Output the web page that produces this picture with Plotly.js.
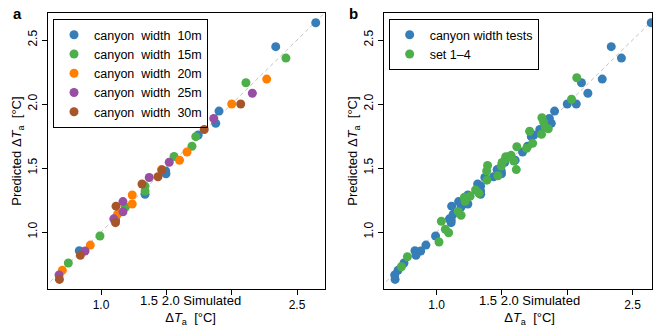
<!DOCTYPE html>
<html>
<head>
<meta charset="utf-8">
<script src="https://cdn.plot.ly/plotly-3.0.1.min.js"></script>
<style>html,body{margin:0;padding:0;background:#fff;}</style>
</head>
<body>
<div id="chart" style="width:653px;height:330px;"></div>
<script>
// ---- data (simulated vs predicted ΔTa, °C) ----
const w10Sim  = [2.643, 2.337, 1.903, 1.878, 1.744, 1.495, 1.497, 1.337, 1.112, 0.834];
const w10Pred = [2.635, 2.448, 1.945, 1.849, 1.758, 1.477, 1.455, 1.295, 1.094, 0.854];
const w15Sim  = [2.415, 2.109, 1.725, 1.696, 1.559, 1.337, 1.337, 1.187, 0.992, 0.750];
const w15Pred = [2.359, 2.166, 1.745, 1.670, 1.591, 1.359, 1.320, 1.195, 0.969, 0.758];
const w20Sim  = [2.268, 2.000, 1.658, 1.601, 1.463, 1.239, 1.239, 1.126, 0.918, 0.704];
const w20Pred = [2.195, 2.000, 1.625, 1.561, 1.488, 1.289, 1.219, 1.138, 0.898, 0.701];
const w25Sim  = [2.158, 1.863, 1.522, 1.369, 1.168, 1.168, 1.098, 0.878, 0.679];
const w25Pred = [2.084, 1.887, 1.545, 1.426, 1.238, 1.158, 1.103, 0.852, 0.664];
const w30Sim  = [2.069, 1.790, 1.467, 1.436, 1.314, 1.115, 1.111, 0.842, 0.682];
const w30Pred = [2.000, 1.801, 1.484, 1.432, 1.375, 1.202, 1.073, 0.818, 0.630];
const setSim  = [2.073, 2.033, 1.806, 1.819, 1.832, 1.855, 1.712, 1.803, 1.735, 1.614, 1.689, 1.570,
                 1.529, 1.591, 1.526, 1.501, 1.469, 1.495, 1.610, 1.390, 1.383, 1.385, 1.298, 1.324,
                 1.256, 1.212, 1.218, 1.166, 1.187, 1.036, 1.067, 1.092, 1.018, 0.776, 0.730];
const setPred = [2.205, 2.037, 1.893, 1.859, 1.818, 1.807, 1.787, 1.763, 1.693, 1.666, 1.654, 1.599,
                 1.588, 1.555, 1.568, 1.543, 1.440, 1.516, 1.488, 1.520, 1.477, 1.405, 1.328, 1.302,
                 1.279, 1.271, 1.240, 1.159, 1.131, 1.084, 1.021, 0.994, 0.922, 0.807, 0.729];
const widthNames = ['canyon\u00a0\u00a0width\u00a0\u00a010m', 'canyon\u00a0\u00a0width\u00a0\u00a015m',
                    'canyon\u00a0\u00a0width\u00a0\u00a020m', 'canyon\u00a0\u00a0width\u00a0\u00a025m',
                    'canyon\u00a0\u00a0width\u00a0\u00a030m'];
const panelBNames = ['canyon width tests', 'set 1\u20134'];
const oneToOne = [0, 3];
const xTickVals = [1.0, 2.5];
const xTickText = ['1.0', '2.5'];
const xMinorTickVals = [1.5, 2.0];
const yTickVals = [1.0, 1.5, 2.0, 2.5];
const yTickText = ['1.0', '1.5', '2.0', '2.5'];

const colors = ['#377eb8', '#4daf4a', '#ff7f00', '#984ea3', '#a65628'];
const FONT = 'Liberation Sans, Arial, Helvetica, sans-serif';

const simA = [w10Sim, w15Sim, w20Sim, w25Sim, w30Sim];
const predA = [w10Pred, w15Pred, w20Pred, w25Pred, w30Pred];

const traces = [];
traces.push({x: oneToOne, y: oneToOne, xaxis: 'x', yaxis: 'y', mode: 'lines', showlegend: false,
  hoverinfo: 'skip', line: {color: '#c4c4c4', width: 1, dash: '4px,3px'}});
traces.push({x: oneToOne, y: oneToOne, xaxis: 'x2', yaxis: 'y2', mode: 'lines', showlegend: false,
  hoverinfo: 'skip', line: {color: '#c4c4c4', width: 1, dash: '4px,3px'}});
for (let i = 0; i < 5; i++) {
  traces.push({x: simA[i], y: predA[i], xaxis: 'x', yaxis: 'y', mode: 'markers', name: widthNames[i],
    legend: 'legend', marker: {color: colors[i], size: 9, line: {width: 0}}});
}
traces.push({x: [].concat(...simA), y: [].concat(...predA), xaxis: 'x2', yaxis: 'y2', mode: 'markers',
  name: panelBNames[0], legend: 'legend2', marker: {color: colors[0], size: 9, line: {width: 0}}});
traces.push({x: setSim, y: setPred, xaxis: 'x2', yaxis: 'y2', mode: 'markers',
  name: panelBNames[1], legend: 'legend2', marker: {color: colors[1], size: 9, line: {width: 0}}});

const axisCommon = {ticks: 'outside', ticklen: 5, tickwidth: 1, tickcolor: '#000', showline: true,
  linecolor: '#000', linewidth: 1, mirror: true, showgrid: false, zeroline: false,
  tickfont: {family: FONT, size: 12, color: '#000'}};
const xMinor = {tickvals: xMinorTickVals, ticks: 'outside', ticklen: 5, tickwidth: 1, tickcolor: '#000', showgrid: false};
const yTitle = {text: 'Predicted \u0394<i>T</i><sub>a</sub>\u00a0\u00a0[\u00b0C]', font: {family: FONT, size: 13, color: '#000'}, standoff: 1};
const xTitleText = '1.5 2.0 Simulated<br>\u0394<i>T</i><sub>a</sub>\u00a0\u00a0[\u00b0C]';

const legendCommon = {xanchor: 'left', yanchor: 'top', bordercolor: '#000', borderwidth: 1,
  bgcolor: 'rgba(255,255,255,0)', font: {family: FONT, size: 12.5, color: '#000'}, itemwidth: 30, tracegroupgap: 0};

const layout = {
  width: 653, height: 330,
  margin: {l: 48, r: 1, t: 13, b: 41, pad: 0},
  paper_bgcolor: '#fff', plot_bgcolor: '#fff',
  font: {family: FONT, size: 12, color: '#000'},
  showlegend: true,
  xaxis: Object.assign({}, axisCommon, {domain: [0, 0.45861], range: [0.5945, 2.714], anchor: 'y',
    tickvals: xTickVals, ticktext: xTickText, minor: xMinor}),
  yaxis: Object.assign({}, axisCommon, {domain: [0, 1], range: [0.555, 2.711], anchor: 'x',
    tickvals: yTickVals, ticktext: yTickText, tickangle: -90, title: yTitle}),
  xaxis2: Object.assign({}, axisCommon, {domain: [0.55629, 1], range: [0.597, 2.649], anchor: 'y2',
    tickvals: xTickVals, ticktext: xTickText, minor: xMinor}),
  yaxis2: Object.assign({}, axisCommon, {domain: [0, 1], range: [0.555, 2.711], anchor: 'x2',
    tickvals: yTickVals, ticktext: yTickText, tickangle: -90, title: yTitle}),
  legend: Object.assign({}, legendCommon, {x: 0.0083, y: 0.978}),
  legend2: Object.assign({}, legendCommon, {x: 0.564, y: 0.978}),
  annotations: [
    {text: '<b>a</b>', xref: 'paper', yref: 'paper', x: -0.0497, y: 0.9964, xanchor: 'center', yanchor: 'middle',
     showarrow: false, font: {family: FONT, size: 15, color: '#000'}},
    {text: '<b>b</b>', xref: 'paper', yref: 'paper', x: 0.5050, y: 0.9964, xanchor: 'center', yanchor: 'middle',
     showarrow: false, font: {family: FONT, size: 15, color: '#000'}},
    {text: xTitleText, xref: 'paper', yref: 'paper', x: 0.2351, y: -0.008, xanchor: 'center', yanchor: 'top',
     showarrow: false, align: 'center', font: {family: FONT, size: 13, color: '#000'}},
    {text: xTitleText, xref: 'paper', yref: 'paper', x: 0.797, y: -0.008, xanchor: 'center', yanchor: 'top',
     showarrow: false, align: 'center', font: {family: FONT, size: 13, color: '#000'}}
  ]
};

Plotly.newPlot('chart', traces, layout, {displayModeBar: false, staticPlot: true});
</script>
</body>
</html>
